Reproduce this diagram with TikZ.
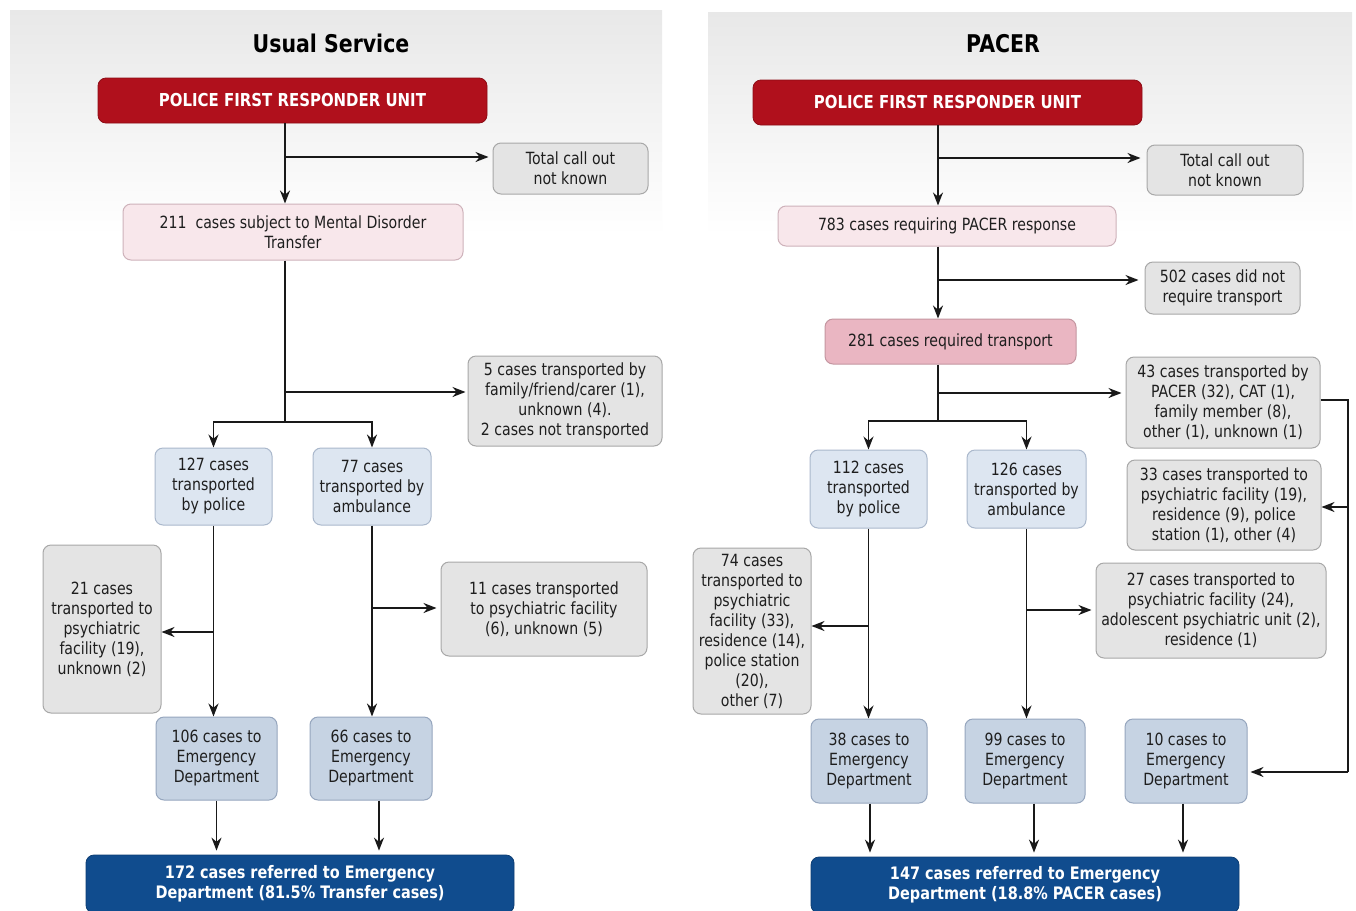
\documentclass[tikz,border=0pt]{standalone}
\usepackage{fontspec}
\setmainfont{DejaVu Sans}[FakeStretch=0.84]
\usetikzlibrary{arrows.meta}
\definecolor{unitred}{RGB}{176,16,28}
\definecolor{boxgray}{RGB}{228,228,228}
\definecolor{boxgrayline}{RGB}{168,168,168}
\definecolor{pinkfill}{RGB}{248,231,235}
\definecolor{pinkline}{RGB}{206,178,186}
\definecolor{rosefill}{RGB}{234,182,194}
\definecolor{roseline}{RGB}{196,150,160}
\definecolor{paleblue}{RGB}{221,230,241}
\definecolor{paleblueline}{RGB}{170,184,204}
\definecolor{edblue}{RGB}{198,211,227}
\definecolor{edblueline}{RGB}{150,166,190}
\definecolor{navy}{RGB}{16,76,142}
\definecolor{inkgray}{RGB}{30,30,30}
\begin{document}
\begin{tikzpicture}[x=0.5pt,y=-0.5pt,
  base/.style={rounded corners=4pt, align=center, inner sep=0pt, text=inkgray,
    font=\fontsize{8.4}{10}\selectfont},
  graybox/.style={base, fill=boxgray, draw=boxgrayline, line width=0.5pt},
  pinkbox/.style={base, fill=pinkfill, draw=pinkline, line width=0.5pt},
  rosebox/.style={base, fill=rosefill, draw=roseline, line width=0.5pt},
  bluebox/.style={base, fill=paleblue, draw=paleblueline, line width=0.5pt},
  edbox/.style={base, fill=edblue, draw=edblueline, line width=0.5pt},
  unitbox/.style={base, fill=unitred, draw=unitred!80!black, text=white,
    font=\bfseries\fontsize{8.9}{10}\selectfont},
  sumbox/.style={base, fill=navy, draw=navy!80!black, text=white,
    font=\bfseries\fontsize{8.6}{10}\selectfont},
  heading/.style={font=\bfseries\fontsize{12.2}{14}\selectfont, text=black},
  link/.style={line width=0.9pt, draw=black!90},
  arr/.style={link, -{Stealth[length=6.5pt,width=5pt]}}]

\useasboundingbox (0,0) rectangle (1356,911);
\fill[white] (0,0) rectangle (1356,911);

% soft grey header band behind each panel
\shade[top color=black!9, bottom color=white] (10,10) rectangle (662,235);
\shade[top color=black!9, bottom color=white] (708,12) rectangle (1352,235);

% ---------------- Usual Service ----------------
\node[heading] (titleL) at (331,43) {Usual Service};
\node[unitbox, minimum width=194.5pt, minimum height=22.5pt] (unitL) at (292.5,100.5) {POLICE FIRST RESPONDER UNIT};
\node[graybox, minimum width=77.5pt, minimum height=25.5pt] (callL) at (570.5,168.5) {Total call out\\not known};
\node[pinkbox, minimum width=170pt, minimum height=28pt] (mdtL) at (293,232) {211~ cases subject to Mental Disorder\\Transfer};
\node[graybox, minimum width=97pt, minimum height=45pt] (fiveL) at (565,401) {5 cases transported by\\family/friend/carer (1),\\unknown (4).\\2 cases not transported};
\node[bluebox, minimum width=58.5pt, minimum height=38.5pt] (polL) at (213.5,486.5) {127 cases\\transported\\by police};
\node[bluebox, minimum width=59pt, minimum height=38.5pt] (ambL) at (372,486.5) {77 cases\\transported by\\ambulance};
\node[graybox, minimum width=59pt, minimum height=84pt] (psyL) at (102,629) {21 cases\\transported to\\psychiatric\\facility (19),\\unknown (2)};
\node[graybox, minimum width=103pt, minimum height=47pt] (elevenL) at (544,609) {11 cases transported\\to psychiatric facility\\(6), unknown (5)};
\node[edbox, minimum width=60.5pt, minimum height=41.5pt] (edaL) at (216.5,758.5) {106 cases to\\Emergency\\Department};
\node[edbox, minimum width=61pt, minimum height=41.5pt] (edbL) at (371,758.5) {66 cases to\\Emergency\\Department};
\node[sumbox, minimum width=214pt, minimum height=29pt] (sumL) at (300,884) {172 cases referred to Emergency\\Department (81.5\% Transfer cases)};

\coordinate (jL1) at (285,157);
\coordinate (jL2) at (285,392);
\coordinate (jL3) at (285,422);
\coordinate (jL4) at (213.5,632);
\coordinate (jL5) at (372,608);
\coordinate (xL6) at (379,800);

\draw[arr] (unitL.south -| jL1) -- (mdtL.north -| jL1);
\draw[arr] (jL1) -- ([xshift=-2pt]jL1 -| callL.west);
\draw[link] (mdtL.south -| jL3) -- (jL3);
\draw[arr] (jL2) -- ([xshift=-1pt]jL2 -| fiveL.west);
\draw[arr] (jL3) -| (polL.north);
\draw[arr] (jL3) -| (ambL.north);
\draw[arr] (polL.south) -- (polL.south |- edaL.north);
\draw[arr] (jL4) -- (jL4 -| psyL.east);
\draw[arr] (ambL.south) -- (ambL.south |- edbL.north);
\draw[arr] (jL5) -- ([xshift=-2pt]jL5 -| elevenL.west);
\draw[arr, shorten >=2pt] (edaL.south) -- (edaL.south |- sumL.north);
\draw[arr, shorten >=2pt] (edbL.south -| xL6) -- (sumL.north -| xL6);

% ---------------- PACER ----------------
\node[heading] (titleR) at (1003,44) {PACER};
\node[unitbox, minimum width=194.5pt, minimum height=22.5pt] (unitR) at (947.5,102.5) {POLICE FIRST RESPONDER UNIT};
\node[graybox, minimum width=78pt, minimum height=25pt] (callR) at (1225,170) {Total call out\\not known};
\node[pinkbox, minimum width=169pt, minimum height=20pt] (pacR) at (947,226) {783 cases requiring PACER response};
\node[graybox, minimum width=77.5pt, minimum height=26pt] (noTrR) at (1222.5,288) {502 cases did not\\require transport};
\node[rosebox, minimum width=125.5pt, minimum height=22.5pt] (reqR) at (950.5,341.5) {281 cases required transport};
\node[graybox, minimum width=97pt, minimum height=45.5pt] (f43R) at (1223,402.5) {43 cases transported by\\PACER (32), CAT (1),\\family member (8),\\other (1), unknown (1)};
\node[bluebox, minimum width=58.5pt, minimum height=39pt] (polR) at (868.5,489) {112 cases\\transported\\by police};
\node[bluebox, minimum width=59.5pt, minimum height=39pt] (ambR) at (1026.5,489) {126 cases\\transported by\\ambulance};
\node[graybox, minimum width=97pt, minimum height=45pt] (f33R) at (1224,505) {33 cases transported to\\psychiatric facility (19),\\residence (9), police\\station (1), other (4)};
\node[graybox, minimum width=59pt, minimum height=83pt] (f74R) at (752,631) {74 cases\\transported to\\psychiatric\\facility (33),\\residence (14),\\police station\\(20),\\other (7)};
\node[graybox, minimum width=115pt, minimum height=47.5pt] (f27R) at (1211,610.5) {27 cases transported to\\psychiatric facility (24),\\adolescent psychiatric unit (2),\\residence (1)};
\node[edbox, minimum width=58pt, minimum height=42pt] (edaR) at (869,761) {38 cases to\\Emergency\\Department};
\node[edbox, minimum width=60pt, minimum height=42pt] (edbR) at (1025,761) {99 cases to\\Emergency\\Department};
\node[edbox, minimum width=61pt, minimum height=42pt] (edcR) at (1186,761) {10 cases to\\Emergency\\Department};
\node[sumbox, minimum width=214pt, minimum height=28pt] (sumR) at (1025,885) {147 cases referred to Emergency\\Department (18.8\% PACER cases)};

\coordinate (jR1) at (938,158);
\coordinate (jR2) at (938,280);
\coordinate (jR3) at (938,393);
\coordinate (jR4) at (938,421);
\coordinate (jR5) at (868.5,626);
\coordinate (jR6) at (1026.5,610);
\coordinate (cR1) at (1348,400);
\coordinate (cR2) at (1348,772);
\coordinate (cR3) at (1348,507);
\coordinate (xR1) at (870,803);
\coordinate (xR2) at (1034,803);
\coordinate (xR3) at (1183,803);

\draw[arr] (unitR.south -| jR1) -- (pacR.north -| jR1);
\draw[arr] (jR1) -- ([xshift=-3pt]jR1 -| callR.west);
\draw[arr] (pacR.south -| jR2) -- (reqR.north -| jR2);
\draw[arr] (jR2) -- ([xshift=-3pt]jR2 -| noTrR.west);
\draw[link] (reqR.south -| jR4) -- (jR4);
\draw[arr] (jR3) -- ([xshift=-2pt]jR3 -| f43R.west);
\draw[arr] (jR4) -| (polR.north);
\draw[arr] (jR4) -| (ambR.north);
\draw[arr] (polR.south) -- (polR.south |- edaR.north);
\draw[arr] (jR5) -- (jR5 -| f74R.east);
\draw[arr] (ambR.south) -- (ambR.south |- edbR.north);
\draw[arr] (jR6) -- ([xshift=-2pt]jR6 -| f27R.west);
\draw[link] (f43R.east |- cR1) -- (cR1) -- (cR2);
\draw[arr] (cR2) -- ([xshift=1.5pt]cR2 -| edcR.east);
\draw[arr] (cR3) -- (cR3 -| f33R.east);
\draw[arr, shorten >=2pt] (edaR.south -| xR1) -- (sumR.north -| xR1);
\draw[arr, shorten >=2pt] (edbR.south -| xR2) -- (sumR.north -| xR2);
\draw[arr, shorten >=2pt] (edcR.south -| xR3) -- (sumR.north -| xR3);
\end{tikzpicture}
\end{document}
